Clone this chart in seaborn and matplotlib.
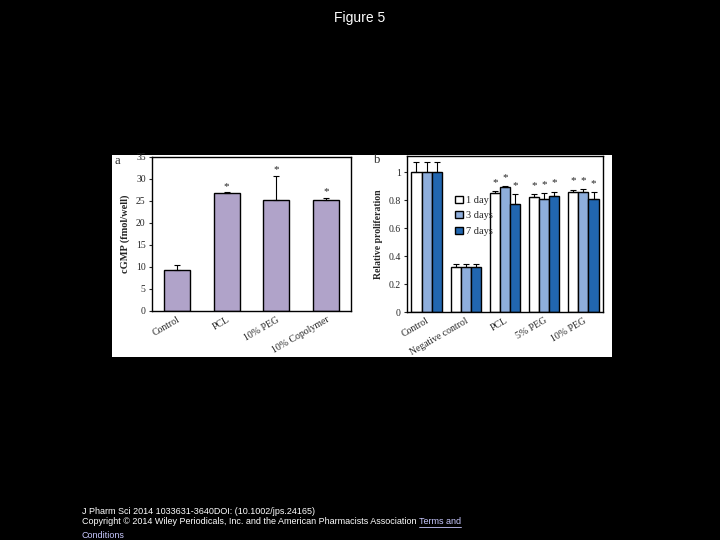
import numpy as np
import pandas as pd
import matplotlib
matplotlib.use("Agg")
import matplotlib.pyplot as plt
from matplotlib.patches import Rectangle, Patch
from matplotlib.lines import Line2D
from matplotlib.ticker import FuncFormatter
import seaborn as sns

# panel a data
a_groups = ["Control", "PCL", "10% PEG", "10% Copolymer"]
a_cgmp = [9.4, 26.8, 25.3, 25.3]
a_err = [1.0, 0.2, 5.4, 0.4]
a_star = [False, True, True, True]

# panel b data
b_groups = ["Control", "Negative control", "PCL", "5% PEG", "10% PEG"]
b_days = ["1 day", "3 days", "7 days"]
b_day1 = [1.00, 0.32, 0.85, 0.82, 0.86]
b_day3 = [1.00, 0.32, 0.89, 0.81, 0.86]
b_day7 = [1.00, 0.32, 0.77, 0.83, 0.81]
b_err1 = [0.07, 0.02, 0.012, 0.02, 0.015]
b_err3 = [0.07, 0.02, 0.01, 0.04, 0.02]
b_err7 = [0.07, 0.02, 0.07, 0.03, 0.045]
b_star = [False, False, True, True, True]

sns.set_style("white")
plt.rcParams["font.family"] = ["Liberation Serif", "DejaVu Serif"]

fig = plt.figure(figsize=(7.2, 5.4), dpi=100)
fig.patch.set_facecolor("black")

W, H = 720.0, 540.0
def fbox(x0, y0, x1, y1):
    # pixel box (top-left origin) -> figure fraction [l, b, w, h]
    return [x0 / W, 1 - y1 / H, (x1 - x0) / W, (y1 - y0) / H]

# white panel behind both plots
l, b, w, h = fbox(112, 155, 612, 357)
fig.patches.append(Rectangle((l, b), w, h, transform=fig.transFigure,
                             facecolor="white", edgecolor="none", zorder=-10))

fig.text(0.5, 1 - 18 / H, "Figure 5", color="white", ha="center", va="center",
         fontsize=10, family="Liberation Sans")


def style_axes(ax, n):
    ax.patch.set_alpha(0)
    for s in ax.spines.values():
        s.set_color("black")
        s.set_linewidth(1.0)
    ax.set_xticks(range(n))
    ax.set_xticks(np.arange(-0.5, n), minor=True)
    ax.tick_params(axis="x", which="major", length=0, labelsize=7, pad=3)
    ax.tick_params(axis="x", which="minor", length=2.5, width=0.8, direction="out")
    ax.tick_params(axis="y", left=True, labelsize=7, length=2.5, width=0.8,
                   direction="out", pad=2)
    ax.set_xlim(-0.5, n - 0.5)
    ax.set_xlabel("")
    for t in ax.get_xticklabels():
        t.set_rotation(30)
        t.set_ha("right")
        t.set_rotation_mode("anchor")


def add_errors(ax, errs, stars, off):
    for cont, err in zip(ax.containers, errs):
        for bar, e, st in zip(cont, err, stars):
            xc = bar.get_x() + bar.get_width() / 2
            top = bar.get_height()
            ax.errorbar(xc, top, yerr=[[0], [e]], fmt="none", ecolor="black",
                        elinewidth=0.8, capsize=2, capthick=0.8, zorder=3)
            if st:
                ax.annotate("*", (xc, top + e), xytext=(0, off), textcoords="offset points",
                            ha="center", va="bottom", fontsize=8)


# panel a
ax1 = fig.add_axes(fbox(152, 157, 351, 311))
dfa = pd.DataFrame({"group": a_groups, "cgmp": a_cgmp})
sns.barplot(data=dfa, x="group", y="cgmp", color="#b0a3c9", saturation=1,
            width=0.52, edgecolor="black", linewidth=1.0, ax=ax1)
ax1.set_ylim(0, 35)
ax1.set_yticks(range(0, 36, 5))
add_errors(ax1, [a_err], a_star, 1)
style_axes(ax1, len(a_groups))
ax1.set_ylabel("cGMP (fmol/well)", fontsize=7.5, fontweight="bold", labelpad=4)
fig.text(115 / W, 1 - 161 / H, "a", fontsize=9, va="center")

# panel b
ax2 = fig.add_axes(fbox(407, 156, 603, 312))
dfb = pd.DataFrame({
    "group": b_groups * 3,
    "day": np.repeat(b_days, len(b_groups)),
    "value": b_day1 + b_day3 + b_day7,
})
pal = ["white", "#8eaedc", "#2166b0"]
sns.barplot(data=dfb, x="group", y="value", hue="day", palette=pal, saturation=1,
            width=0.78, edgecolor="black", linewidth=1.0, legend=False, ax=ax2)
ax2.set_ylim(0, 1.115)
ax2.set_yticks([0, 0.2, 0.4, 0.6, 0.8, 1.0])
ax2.yaxis.set_major_formatter(FuncFormatter(lambda v, p: f"{v:g}"))
add_errors(ax2, [b_err1, b_err3, b_err7], b_star, 3)
style_axes(ax2, len(b_groups))
ax2.set_ylabel("Relative proliferation", fontsize=7, fontweight="bold", labelpad=4)
handles = [Patch(facecolor=c, edgecolor="black", linewidth=1.0) for c in pal]
ax2.legend(handles, b_days, loc="upper left", bbox_to_anchor=(0.22, 0.78),
           frameon=False, fontsize=7.5, handlelength=0.7, handleheight=0.7,
           handletextpad=0.3, labelspacing=0.6, borderpad=0)
fig.text(374 / W, 1 - 160 / H, "b", fontsize=9, va="center")

# footer
foot = dict(color="white", fontsize=6.5, family="Liberation Sans", va="center", ha="left")
link = "#c8c8ff"
fig.text(82 / W, 1 - 511.5 / H, "J Pharm Sci 2014 1033631-3640DOI: (10.1002/jps.24165)", **foot)
t2 = fig.text(82 / W, 1 - 521.5 / H,
              "Copyright © 2014 Wiley Periodicals, Inc. and the American Pharmacists Association ",
              **foot)
fig.canvas.draw()
x_end = t2.get_window_extent().x1 / W
foot["color"] = link
t3 = fig.text(x_end, 1 - 521.5 / H, "Terms and", **foot)
t4 = fig.text(82 / W, 1 - 535.5 / H, "Conditions", **foot)
fig.canvas.draw()
for t, yy in [(t3, 526.5), (t4, 540)]:
    bb = t.get_window_extent()
    fig.lines.append(Line2D([bb.x0 / W, bb.x1 / W], [1 - yy / H, 1 - yy / H],
                            transform=fig.transFigure, color=link, linewidth=0.6))

fig.savefig("out.png", dpi=100, facecolor="black")
